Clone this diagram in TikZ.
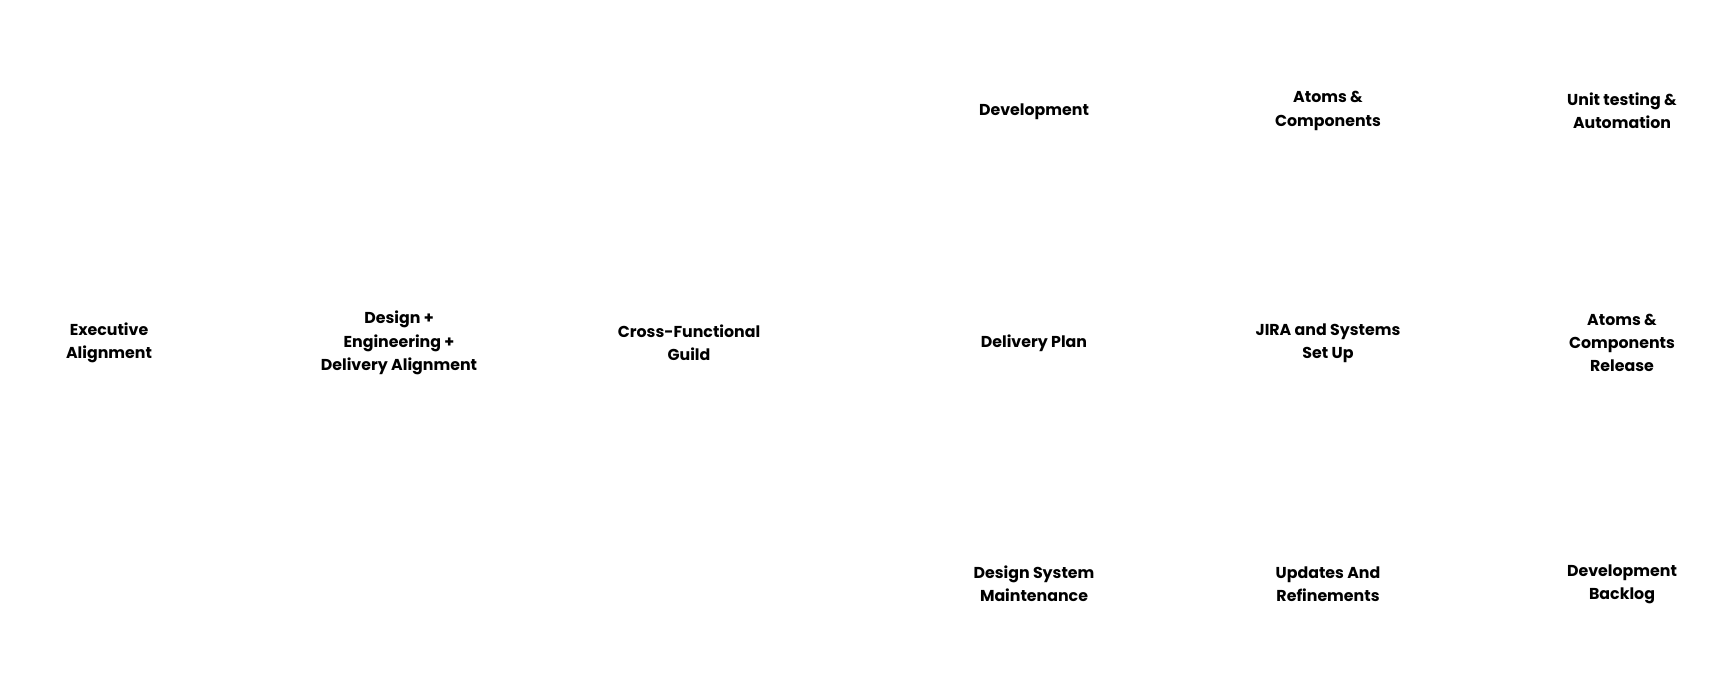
\documentclass[tikz,border=0pt]{standalone}
\usepackage{fontspec}
\setmainfont{Poppins}[BoldFont={* Bold}]
\begin{document}
\begin{tikzpicture}[x=0.5pt, y=-0.5pt,
        stage/.style={align=center, font=\bfseries\fontsize{7.9}{11.6}\selectfont, inner sep=0pt}]
        \useasboundingbox (0,0) rectangle (1732,689);
        % left column
        \node[stage] (exec) at (109,343) {Executive\\Alignment};
        \node[stage] (align) at (399,343) {Design +\\Engineering +\\Delivery Alignment};
        \node[stage] (guild) at (689,343) {Cross-Functional\\Guild};
        % top row
        \node[stage] (dev) at (1034,112) {Development};
        \node[stage] (atoms) at (1328,111) {Atoms \&\\Components};
        \node[stage] (unit) at (1622,111) {Unit testing \&\\Automation};
        % middle row
        \node[stage] (plan) at (1034,343) {Delivery Plan};
        \node[stage] (jira) at (1328,343) {JIRA and Systems\\Set Up};
        \node[stage] (release) at (1622,343) {Atoms \&\\Components\\Release};
        % bottom row
        \node[stage] (maint) at (1034,584) {Design System\\Maintenance};
        \node[stage] (updates) at (1328,584) {Updates And\\Refinements};
        \node[stage] (backlog) at (1622,584) {Development\\Backlog};
    \end{tikzpicture}
\end{document}
